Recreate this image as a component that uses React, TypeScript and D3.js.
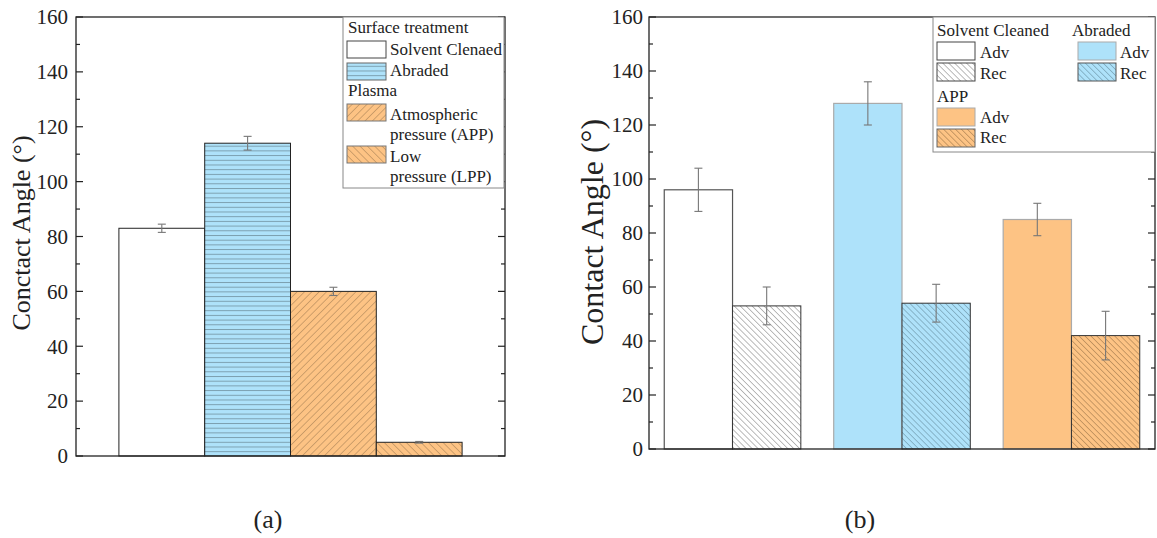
import React from "react";
import * as d3 from "d3";

// ---------- data ----------
const leftCategories = ["Solvent Clenaed", "Abraded", "APP", "LPP"];
const leftValues = [83, 114, 60, 5];
const leftErrors = [1.5, 2.5, 1.5, 0.3];

const rightGroups = ["Solvent Cleaned", "Abraded", "APP"];
const rightSeries = ["Adv", "Rec"];
const advValues = [96, 128, 85];
const advErrors = [8, 8, 6];
const recValues = [53, 54, 42];
const recErrors = [7, 7, 9];

const yDomain = [0, 160];
const yTickCount = 8;

// ---------- styles ----------
const BLUE = "#AEE2FA";
const ORANGE = "#FDC384";
const FONT = "'Liberation Serif', 'Times New Roman', serif";

export default function App() {
  const W = 1157, H = 538;

  // left panel
  const yL = d3.scaleLinear().domain(yDomain).range([456, 17]);
  const xL = d3.scaleBand<string>().domain(leftCategories).range([76, 505]).paddingInner(0).paddingOuter(0.5);
  const leftFills = ["#ffffff", "url(#hLines)", "url(#fwdL)", "url(#backL)"];

  // right panel
  const yR = d3.scaleLinear().domain(yDomain).range([449, 17]);
  const xG = d3.scaleBand<string>().domain(rightGroups).range([649, 1155]).paddingInner(0.194).paddingOuter(0.09);
  const xS = d3.scaleBand<string>().domain(rightSeries).range([0, xG.bandwidth()]);
  const advFill = ["#ffffff", BLUE, ORANGE];
  const advStroke = ["#555", "#aaa", "#aaa"];
  const recFill = ["url(#backW)", "url(#backB)", "url(#backO)"];

  const axisPanel = (y: d3.ScaleLinear<number, number>, x0: number, x1: number, labelX: number) => {
    const major = y.ticks(yTickCount);
    const minor = y.ticks(yTickCount * 2).filter((t) => !major.includes(t));
    const [yb, yt] = y.range();
    return (
      <g>
        <rect x={x0} y={yt} width={x1 - x0} height={yb - yt} fill="none" stroke="#222" strokeWidth={1.3} />
        {major.map((t) => (
          <g key={"M" + t}>
            <line x1={x0} x2={x0 + 7} y1={y(t)} y2={y(t)} stroke="#222" strokeWidth={1.2} />
            <line x1={x1} x2={x1 - 7} y1={y(t)} y2={y(t)} stroke="#222" strokeWidth={1.2} />
            <text x={labelX} y={y(t)} dy="0.35em" textAnchor="end" fontSize={21} fontFamily={FONT} fill="#222">
              {t}
            </text>
          </g>
        ))}
        {minor.map((t) => (
          <g key={"m" + t}>
            <line x1={x0} x2={x0 + 4} y1={y(t)} y2={y(t)} stroke="#222" strokeWidth={1.2} />
            <line x1={x1} x2={x1 - 4} y1={y(t)} y2={y(t)} stroke="#222" strokeWidth={1.2} />
          </g>
        ))}
      </g>
    );
  };

  const errBar = (cx: number, y: d3.ScaleLinear<number, number>, v: number, e: number, key: string) => (
    <g key={key} stroke="#777" strokeWidth={1.1}>
      <line x1={cx} x2={cx} y1={y(v + e)} y2={y(v - e)} />
      <line x1={cx - 4} x2={cx + 4} y1={y(v + e)} y2={y(v + e)} />
      <line x1={cx - 4} x2={cx + 4} y1={y(v - e)} y2={y(v - e)} />
    </g>
  );

  const hatch = (id: string, bg: string, color: string, angle: number, spacing: number, width = 0.8) => (
    <pattern id={id} patternUnits="userSpaceOnUse" width={spacing} height={spacing} patternTransform={`rotate(${angle})`}>
      <rect width={spacing} height={spacing} fill={bg} />
      <line x1={0} y1={0} x2={0} y2={spacing} stroke={color} strokeWidth={width} />
    </pattern>
  );

  return (
    <svg width={W} height={H} style={{ position: "absolute", left: 0, top: 0, background: "#fff" }}>
      <defs>
        <pattern id="hLines" patternUnits="userSpaceOnUse" width={8} height={4.7}>
          <rect width={8} height={4.7} fill={BLUE} />
          <line x1={0} x2={8} y1={0.5} y2={0.5} stroke="#7596a6" strokeWidth={0.9} />
        </pattern>
        {hatch("fwdL", ORANGE, "#8a6a45", 45, 5.2)}
        {hatch("backL", ORANGE, "#8a6a45", -45, 5.2)}
        {hatch("backW", "#ffffff", "#555", -45, 4.2)}
        {hatch("backB", BLUE, "#4d6f80", -45, 4.2)}
        {hatch("backO", ORANGE, "#7a5a35", -45, 4.2)}
      </defs>

      {/* ---------- left panel ---------- */}
      {leftCategories.map((c, i) => (
        <rect
          key={c}
          x={xL(c)!}
          y={yL(leftValues[i])}
          width={xL.bandwidth()}
          height={yL(0) - yL(leftValues[i])}
          fill={leftFills[i]}
          stroke="#222"
          strokeWidth={1}
        />
      ))}
      {leftCategories.map((c, i) => errBar(xL(c)! + xL.bandwidth() / 2, yL, leftValues[i], leftErrors[i], "eL" + i))}
      {axisPanel(yL, 76, 505, 68)}
      <text transform="translate(30,233) rotate(-90)" textAnchor="middle" fontSize={26} fontFamily={FONT} fill="#222">
        Conctact Angle (°)
      </text>

      {/* left legend */}
      <g fontFamily={FONT} fontSize={17} fill="#222">
        <rect x={343} y={17} width={161} height={171} fill="#fff" stroke="#888" strokeWidth={1} />
        <text x={348} y={33}>Surface treatment</text>
        <rect x={347} y={41} width={39} height={17} fill="#fff" stroke="#444" />
        <text x={390} y={55}>Solvent Clenaed</text>
        <rect x={347} y={63} width={39} height={17} fill="url(#hLines)" stroke="#666" />
        <text x={390} y={76}>Abraded</text>
        <text x={348} y={96}>Plasma</text>
        <rect x={347} y={104} width={39} height={17} fill="url(#fwdL)" stroke="#777" />
        <text x={390} y={120}>Atmospheric</text>
        <text x={390} y={140}>pressure (APP)</text>
        <rect x={347} y={146} width={39} height={17} fill="url(#backL)" stroke="#777" />
        <text x={390} y={162}>Low</text>
        <text x={390} y={182}>pressure (LPP)</text>
      </g>

      {/* ---------- right panel ---------- */}
      {rightGroups.map((g, i) => (
        <g key={g}>
          <rect
            x={xG(g)! + xS("Adv")!}
            y={yR(advValues[i])}
            width={xS.bandwidth()}
            height={yR(0) - yR(advValues[i])}
            fill={advFill[i]}
            stroke={advStroke[i]}
            strokeWidth={1.2}
          />
          <rect
            x={xG(g)! + xS("Rec")!}
            y={yR(recValues[i])}
            width={xS.bandwidth()}
            height={yR(0) - yR(recValues[i])}
            fill={recFill[i]}
            stroke="#333"
            strokeWidth={1}
          />
        </g>
      ))}
      {rightGroups.map((g, i) => (
        <g key={"e" + g}>
          {errBar(xG(g)! + xS("Adv")! + xS.bandwidth() / 2, yR, advValues[i], advErrors[i], "a")}
          {errBar(xG(g)! + xS("Rec")! + xS.bandwidth() / 2, yR, recValues[i], recErrors[i], "r")}
        </g>
      ))}
      {axisPanel(yR, 649, 1155, 643)}
      <text transform="translate(603,232) rotate(-90)" textAnchor="middle" fontSize={32} fontFamily={FONT} fill="#222">
        Contact Angle (°)
      </text>

      {/* right legend */}
      <g fontFamily={FONT} fontSize={17} fill="#222">
        <rect x={933} y={17} width={222} height={135} fill="#fff" stroke="#888" strokeWidth={1} />
        <text x={937} y={36}>Solvent Cleaned</text>
        <text x={1072} y={36}>Abraded</text>
        <rect x={937} y={42} width={38} height={18} fill="#fff" stroke="#444" />
        <text x={980} y={58}>Adv</text>
        <rect x={937} y={63} width={38} height={18} fill="url(#backW)" stroke="#444" />
        <text x={980} y={79}>Rec</text>
        <rect x={1078} y={42} width={38} height={18} fill={BLUE} stroke="#aaa" />
        <text x={1120} y={58}>Adv</text>
        <rect x={1078} y={63} width={38} height={18} fill="url(#backB)" stroke="#555" />
        <text x={1120} y={79}>Rec</text>
        <text x={937} y={102}>APP</text>
        <rect x={937} y={108} width={38} height={18} fill={ORANGE} stroke="#aaa" />
        <text x={980} y={123}>Adv</text>
        <rect x={937} y={129} width={38} height={18} fill="url(#backO)" stroke="#666" />
        <text x={980} y={143}>Rec</text>
      </g>

      {/* panel captions */}
      <text x={268} y={528} textAnchor="middle" fontSize={26} fontFamily={FONT} fill="#222">(a)</text>
      <text x={860} y={528} textAnchor="middle" fontSize={26} fontFamily={FONT} fill="#222">(b)</text>
    </svg>
  );
}
